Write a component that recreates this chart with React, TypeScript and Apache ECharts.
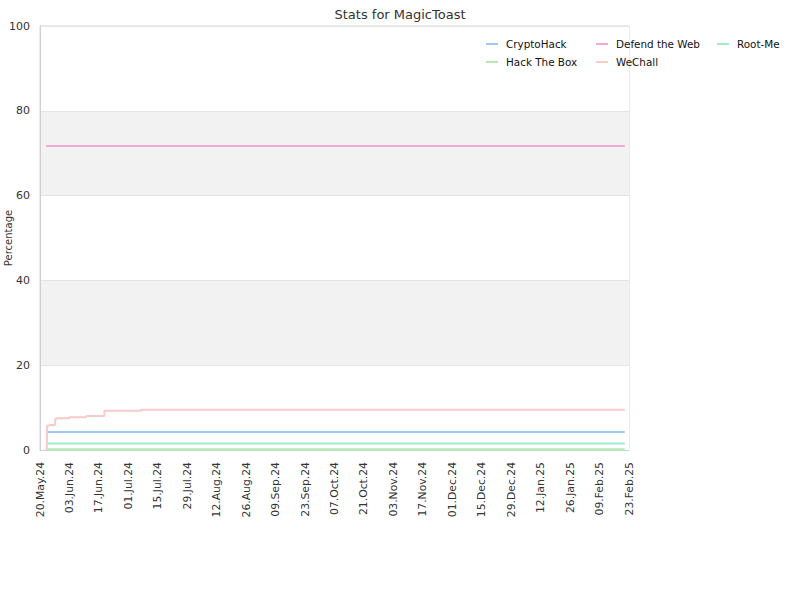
import React, { useEffect, useRef } from "react";
import * as echarts from "echarts";

const tickLabels = [
  "20.May.24", "03.Jun.24", "17.Jun.24", "01.Jul.24", "15.Jul.24", "29.Jul.24",
  "12.Aug.24", "26.Aug.24", "09.Sep.24", "23.Sep.24", "07.Oct.24", "21.Oct.24",
  "03.Nov.24", "17.Nov.24", "01.Dec.24", "15.Dec.24", "29.Dec.24", "12.Jan.25",
  "26.Jan.25", "09.Feb.25", "23.Feb.25",
];

// x = days since 20.May.24
const cryptoHack: [number, number][] = [[2.9, 4.25], [278, 4.25]];
const defendTheWeb: [number, number][] = [[2.9, 71.7], [278, 71.7]];
const rootMe: [number, number][] = [[2.9, 1.55], [278, 1.55]];
const hackTheBox: [number, number][] = [[2.9, 0.15], [278, 0.15]];
const weChall: [number, number][] = [
  [3.2, 0], [3.4, 5.7], [4.4, 5.9], [7.2, 7.3], [7.9, 7.5], [14, 7.7],
  [22, 8.0], [30.6, 9.25], [48, 9.5], [278, 9.5],
];

const colors = {
  cryptoHack: "#a0c6f2",
  defendTheWeb: "#f2a9d3",
  rootMe: "#a3ecc9",
  hackTheBox: "#b5eab5",
  weChall: "#f8caca",
};

export default function App() {
  const ref = useRef<HTMLDivElement>(null);
  useEffect(() => {
    if (!ref.current) return;
    const chart = echarts.init(ref.current, undefined, { renderer: "svg" });
    const font = "DejaVu Sans";
    const mkSeries = (name: string, data: [number, number][], color: string) => ({
      name,
      type: "line",
      data,
      step: "end",
      showSymbol: false,
      symbol: "none",
      lineStyle: { color, width: 2 },
      itemStyle: { color },
    });
    const legendBase = {
      orient: "vertical",
      top: 38,
      padding: 0,
      itemWidth: 12,
      itemHeight: 2,
      itemGap: 6,
      icon: "rect",
      textStyle: { fontFamily: font, fontSize: 10.4, color: "#111", padding: [0, 0, 0, 3], lineHeight: 12 },
    };
    chart.setOption({
      animation: false,
      textStyle: { fontFamily: font },
      title: {
        text: "Stats for MagicToast",
        left: "center",
        top: 3,
        textStyle: { fontFamily: font, fontSize: 13, fontWeight: "normal", color: "#333" },
      },
      legend: [
        { ...legendBase, left: 486, data: ["CryptoHack", "Hack The Box"] },
        { ...legendBase, left: 596, data: ["Defend the Web", "WeChall"] },
        { ...legendBase, left: 717, data: ["Root-Me"] },
      ],
      grid: {
        left: 40,
        right: 171,
        top: 26,
        bottom: 150,
        containLabel: false,
        outerBoundsMode: "none",
        show: true,
        borderColor: "#d6d6d6",
        borderWidth: 1,
        backgroundColor: "transparent",
      },
      xAxis: {
        type: "value",
        min: 0,
        max: 280,
        interval: 14,
        axisLine: { show: true, lineStyle: { color: "#cfcfcf" } },
        axisTick: { show: false },
        splitLine: { show: false },
        axisLabel: {
          rotate: 90,
          fontFamily: font,
          fontSize: 10.8,
          color: "#333",
          margin: 12,
          formatter: (v: number) => tickLabels[Math.round(v / 14)] ?? "",
        },
      },
      yAxis: {
        type: "value",
        min: 0,
        max: 100,
        interval: 20,
        name: "Percentage",
        nameLocation: "middle",
        nameGap: 32,
        nameMoveOverlap: false,
        nameTextStyle: { fontFamily: font, fontSize: 10, color: "#333", verticalAlign: "middle" },
        axisLine: { show: true, lineStyle: { color: "#cfcfcf" } },
        axisTick: { show: false },
        splitLine: { show: true, lineStyle: { color: "#e4e4e4" } },
        splitArea: { show: true, areaStyle: { color: ["#ffffff", "#f2f2f2"] } },
        axisLabel: { fontFamily: font, fontSize: 11, color: "#333", margin: 10 },
      },
      series: [
        mkSeries("CryptoHack", cryptoHack, colors.cryptoHack),
        mkSeries("Defend the Web", defendTheWeb, colors.defendTheWeb),
        mkSeries("Root-Me", rootMe, colors.rootMe),
        mkSeries("Hack The Box", hackTheBox, colors.hackTheBox),
        mkSeries("WeChall", weChall, colors.weChall),
      ],
    });
    return () => chart.dispose();
  }, []);
  return (
    <div
      ref={ref}
      style={{ position: "fixed", left: 0, top: 0, width: 800, height: 600, background: "#fff" }}
    />
  );
}
